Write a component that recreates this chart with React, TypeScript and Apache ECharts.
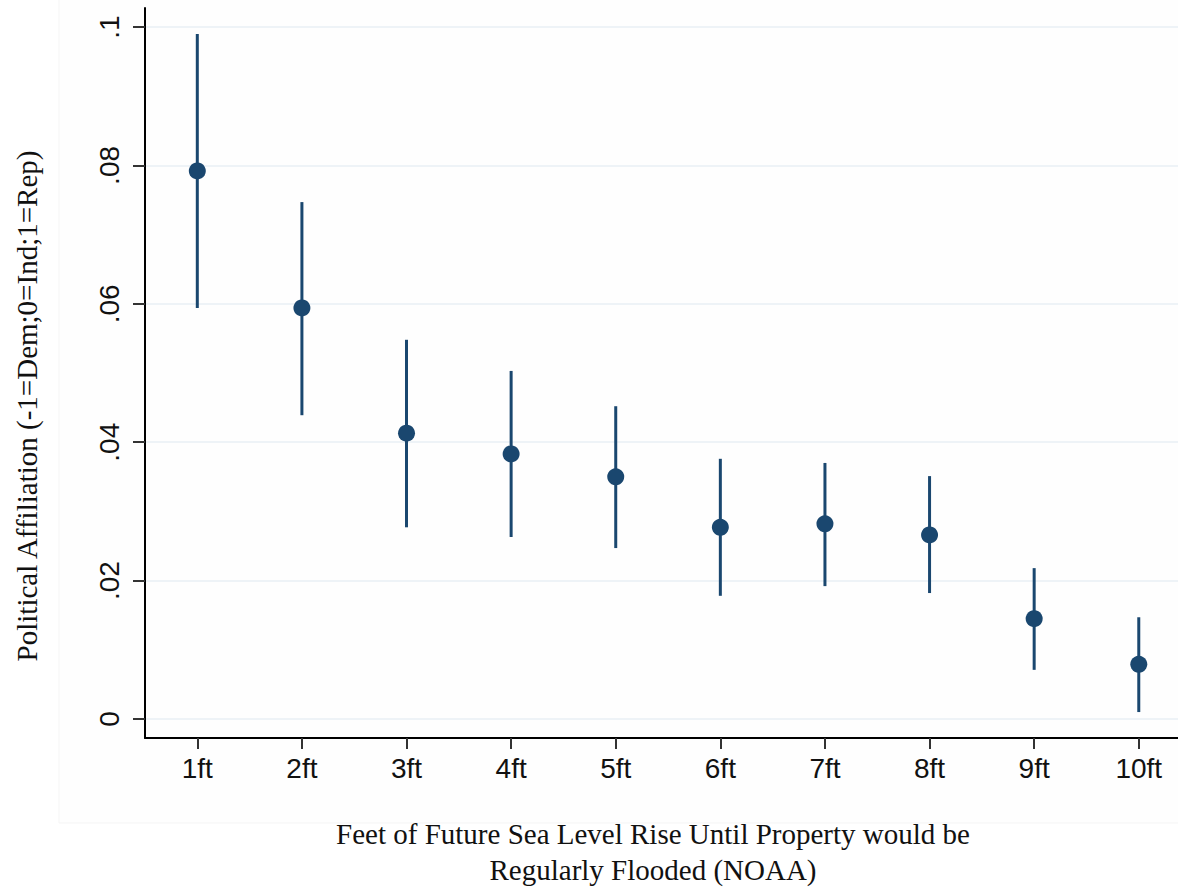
import React, { useEffect, useRef } from "react";
import * as echarts from "echarts";

const categories = ["1ft", "2ft", "3ft", "4ft", "5ft", "6ft", "7ft", "8ft", "9ft", "10ft"];
const feet = [1, 2, 3, 4, 5, 6, 7, 8, 9, 10];
const estimates = [0.0792, 0.0594, 0.0413, 0.0383, 0.035, 0.0277, 0.0282, 0.0266, 0.0145, 0.0079];
const ciLower = [0.0594, 0.0439, 0.0277, 0.0263, 0.0247, 0.0178, 0.0192, 0.0182, 0.0071, 0.001];
const ciUpper = [0.099, 0.0747, 0.0548, 0.0503, 0.0452, 0.0376, 0.037, 0.0351, 0.0218, 0.0147];
const yTicks = [0, 0.02, 0.04, 0.06, 0.08, 0.1];
const yTitle = "Political Affiliation (-1=Dem;0=Ind;1=Rep)";
const xTitle = "Feet of Future Sea Level Rise Until Property would be\nRegularly Flooded (NOAA)";

const NAVY = "#1a476f";

export default function App() {
  const ref = useRef<HTMLDivElement>(null);
  useEffect(() => {
    if (!ref.current) return;
    const chart = echarts.init(ref.current, null, { renderer: "svg" });
    const fmtY = (v: number) => {
      if (Math.abs(v) < 1e-9) return "0";
      return String(Math.round(v * 100) / 100).replace(/^0/, "");
    };
    const fmtX = (v: number) => {
      const i = feet.indexOf(Math.round(v));
      return i >= 0 ? categories[i] : "";
    };
    chart.setOption({
      animation: false,
      backgroundColor: "#ffffff",
      grid: { left: 145, top: 8, right: 0, bottom: 150, containLabel: false },
      xAxis: {
        type: "value",
        min: 0.5,
        max: 10.375,
        axisLine: { show: true, onZero: false, lineStyle: { color: "#000", width: 2 } },
        axisTick: { show: true, customValues: feet, length: 11, lineStyle: { color: "#333", width: 2 } },
        axisLabel: {
          customValues: feet,
          formatter: fmtX,
          fontFamily: "Liberation Sans",
          fontSize: 28,
          color: "#111",
          margin: 16,
        },
        splitLine: { show: false },
      },
      yAxis: {
        type: "value",
        min: -0.00275,
        max: 0.10275,
        axisLine: { show: true, onZero: false, lineStyle: { color: "#000", width: 2 } },
        axisTick: { show: true, length: 12, customValues: yTicks, lineStyle: { color: "#333", width: 2 } },
        axisLabel: {
          customValues: yTicks,
          formatter: fmtY,
          rotate: 90,
          fontFamily: "Liberation Sans",
          fontSize: 28,
          color: "#111",
          margin: 22,
        },
        splitLine: { show: true, lineStyle: { color: "#e8eff4", width: 1.5 } },
      },
      graphic: [
        {
          type: "rect",
          z: -10,
          silent: true,
          shape: { x: 59, y: -2, width: 1125, height: 825 },
          style: { fill: "#fefefe", stroke: "#f5f5f5", lineWidth: 1 },
        },
        {
          type: "text",
          x: 27,
          y: 406,
          rotation: Math.PI / 2,
          style: {
            text: yTitle,
            font: "29px 'Liberation Serif'",
            fill: "#111",
            textAlign: "center",
            textVerticalAlign: "middle",
          },
        },
        {
          type: "text",
          x: 653,
          y: 852,
          style: {
            text: xTitle,
            font: "29px 'Liberation Serif'",
            lineHeight: 36,
            fill: "#111",
            textAlign: "center",
            textVerticalAlign: "middle",
          },
        },
      ],
      series: [
        {
          type: "custom",
          data: feet.map((f, i) => [f, ciLower[i], ciUpper[i]]),
          renderItem: (params: any, api: any) => {
            const x = api.value(0);
            const lo = api.coord([x, api.value(1)]);
            const hi = api.coord([x, api.value(2)]);
            return {
              type: "line",
              shape: { x1: lo[0], y1: lo[1], x2: hi[0], y2: hi[1] },
              style: { stroke: NAVY, lineWidth: 3 },
            };
          },
          z: 2,
        },
        {
          type: "scatter",
          data: feet.map((f, i) => [f, estimates[i]]),
          symbol: "circle",
          symbolSize: 17,
          itemStyle: { color: NAVY, opacity: 1 },
          z: 3,
        },
      ],
    });
    return () => chart.dispose();
  }, []);
  return (
    <div
      ref={ref}
      style={{ position: "fixed", left: 0, top: 0, width: 1178, height: 888, overflow: "hidden" }}
    />
  );
}
